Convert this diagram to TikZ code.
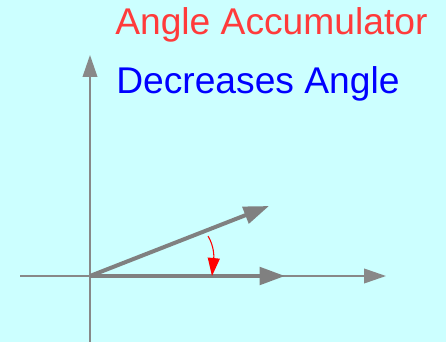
\documentclass[tikz,border=0pt]{standalone}
\usepackage{fontspec}
\setmainfont{Liberation Sans}
\usetikzlibrary{arrows.meta, positioning}
\definecolor{bgfill}{HTML}{CCFFFF}
\definecolor{axisgray}{HTML}{888888}
\definecolor{vecgray}{HTML}{808080}
\definecolor{titlered}{HTML}{FF3B3B}
\definecolor{subblue}{HTML}{0000FF}
\definecolor{turnred}{HTML}{FF0000}
\tikzset{
  axis/.style={draw=axisgray, line width=1.3pt,
               -{Triangle[length=16.5pt, width=11pt]}},
  vector/.style={draw=vecgray, line width=3pt,
                 -{Triangle[length=19pt, width=13pt]}},
  turn/.style={draw=turnred, line width=0.8pt,
               -{Triangle[length=13.5pt, width=9pt]}},
  caption/.style={anchor=base west, inner sep=0pt,
                  font=\fontsize{27.9}{33}\selectfont},
}

\begin{document}
\begin{tikzpicture}[x=0.75pt, y=-0.75pt]

% Background and frame
\fill[bgfill] (0,0) rectangle (446,342);
\useasboundingbox (0,0) rectangle (446,342);

% Titles
\node[caption, text=titlered] (title) at (115,35) {Angle Accumulator};
\node[caption, text=subblue]  (sub)   at (116,94) {Decreases Angle};

% Axes
\coordinate (origin) at (90,276);
\coordinate (ybot)   at (90,342);
\coordinate (ytop)   at (90,55);
\coordinate (xleft)  at (20,276);
\coordinate (xright) at (386,276);
\draw[axis] (ybot) -- (ytop);
\draw[axis] (xleft) -- (xright);

% Vectors before and after
\coordinate (vold) at (269,206);
\coordinate (vnew) at (285,276);
\draw[vector] (origin) -- (vold);
\draw[vector] (origin) -- (vnew);

% Turn towards the axis
\coordinate (turnstart) at (208,236);
\coordinate (turnend)   at (212,276);
\draw[turn] (turnstart) .. controls (214,246) and (214,256) .. (turnend);

\end{tikzpicture}
\end{document}
